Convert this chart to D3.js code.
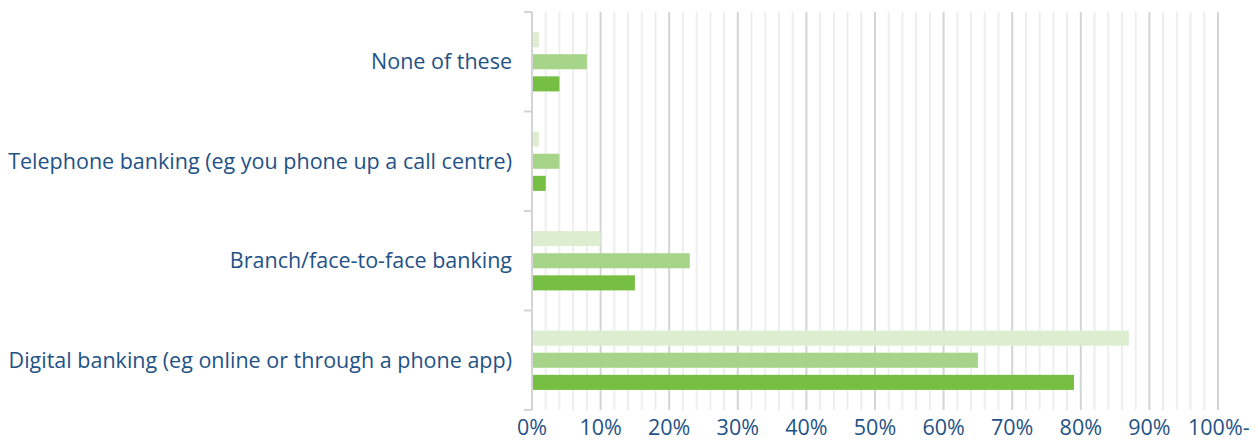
<!DOCTYPE html>
<html>
<head>
<meta charset="utf-8">
<script src="https://cdn.jsdelivr.net/npm/d3@7"></script>
<style>
  html, body { margin: 0; padding: 0; background: #ffffff; }
  svg { display: block; }
  text { font-family: "Open Sans", Lato, sans-serif; fill: #1f5286; font-weight: 500; }
</style>
</head>
<body>
<svg id="chart" width="1258" height="441"></svg>
<script>
// Channel categories, top to bottom
const categories = [
  "None of these",
  "Telephone banking (eg you phone up a call centre)",
  "Branch/face-to-face banking",
  "Digital banking (eg online or through a phone app)"
];
// Three survey series (percent), one bar each per category
const seriesLight = [1, 1, 10, 87];
const seriesMid   = [8, 4, 23, 65];
const seriesDark  = [4, 2, 15, 79];
const seriesColors = ["#dcedd0", "#a6d589", "#77bf43"];
// X-axis tick values and labels
const tickValues = [0, 10, 20, 30, 40, 50, 60, 70, 80, 90, 100];
const tickLabels = ["0%", "10%", "20%", "30%", "40%", "50%", "60%", "70%", "80%", "90%", "100%-"];

const svg = d3.select("#chart");
const plotLeft = 532, plotRight = 1218, plotTop = 12, plotBottom = 410;

const x = d3.scaleLinear().domain([0, 100]).range([plotLeft, plotRight]);
const y = d3.scaleBand().domain(categories).range([plotTop, plotBottom]).paddingInner(0).paddingOuter(0);
const inner = d3.scaleBand().domain([0, 1, 2]).range([0, y.bandwidth()]).paddingInner(0.318).paddingOuter(0.909);

// Minor gridlines every 2%
const minor = d3.range(2, 101, 2).filter(v => v % 10 !== 0);
svg.append("g").selectAll("line").data(minor).join("line")
  .attr("x1", d => x(d)).attr("x2", d => x(d))
  .attr("y1", plotTop).attr("y2", plotBottom)
  .attr("stroke", "#eeeeee").attr("stroke-width", 2);

// Major gridlines every 10%
svg.append("g").selectAll("line").data(tickValues.slice(1)).join("line")
  .attr("x1", d => x(d)).attr("x2", d => x(d))
  .attr("y1", plotTop).attr("y2", plotBottom)
  .attr("stroke", "#d4d4d4").attr("stroke-width", 2);

// Bars
const series = [seriesLight, seriesMid, seriesDark];
series.forEach((vals, si) => {
  svg.append("g").selectAll("rect").data(categories).join("rect")
    .attr("x", x(0))
    .attr("y", c => y(c) + inner(si))
    .attr("width", (c, i) => x(vals[i]) - x(0))
    .attr("height", inner.bandwidth())
    .attr("fill", seriesColors[si]);
});

// Y axis line and band ticks
const yAxis = svg.append("g");
yAxis.append("line")
  .attr("x1", plotLeft).attr("x2", plotLeft).attr("y1", plotTop).attr("y2", plotBottom)
  .attr("stroke", "#d4d4d4").attr("stroke-width", 2);
const bounds = categories.map(c => y(c)).concat([plotBottom]);
yAxis.selectAll("line.tk").data(bounds).join("line").attr("class", "tk")
  .attr("x1", plotLeft - 8).attr("x2", plotLeft).attr("y1", d => d).attr("y2", d => d)
  .attr("stroke", "#d4d4d4").attr("stroke-width", 2);

// Category labels
svg.append("g").selectAll("text").data(categories).join("text")
  .attr("x", 512)
  .attr("y", c => y(c) + y.bandwidth() / 2)
  .attr("dy", "0.35em")
  .attr("text-anchor", "end")
  .attr("font-size", 21.5)
  .text(c => c);

// X tick labels
svg.append("g").selectAll("text").data(tickValues).join("text")
  .attr("x", d => x(d))
  .attr("y", 427)
  .attr("dy", "0.35em")
  .attr("text-anchor", (d, i) => i === tickValues.length - 1 ? "start" : "middle")
  .attr("dx", (d, i) => i === tickValues.length - 1 ? -30 : 0)
  .attr("font-size", 21.5)
  .text((d, i) => tickLabels[i]);
</script>
</body>
</html>
